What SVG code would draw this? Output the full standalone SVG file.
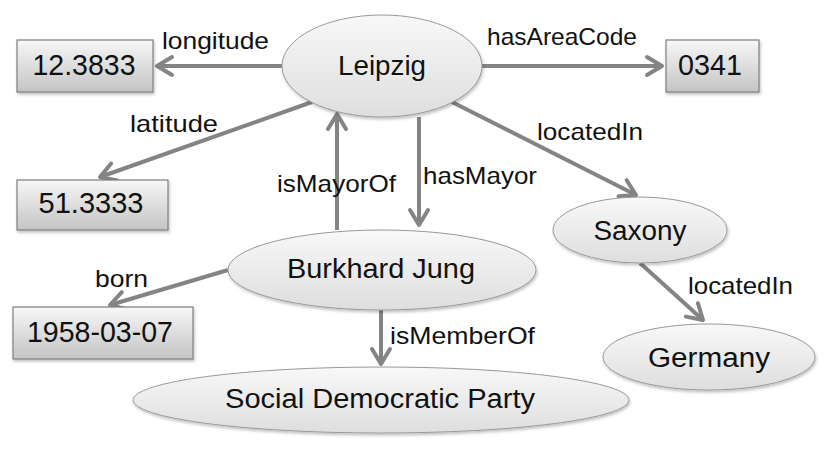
<svg xmlns="http://www.w3.org/2000/svg" width="829" height="450" viewBox="0 0 829 450">
<style>
.node text{font-family:"Liberation Sans",Arial,sans-serif;fill:#111;text-anchor:middle}
.ell{fill:url(#gE);stroke:#9a9a9a;stroke-width:1;filter:url(#sh)}
.box{fill:url(#gB);stroke:#7f7f7f;stroke-width:1.2;filter:url(#sh)}
.nt{font-size:27px}
.bt{font-size:29px}
#edges line{stroke:#848484;stroke-width:4;marker-end:url(#arr)}
#edges text{font-family:"Liberation Sans",Arial,sans-serif;font-size:24px;fill:#111}
</style>
<defs>
<linearGradient id="gE" x1="0" y1="0" x2="0" y2="1">
<stop offset="0" stop-color="#f8f8f8"/><stop offset="1" stop-color="#dedede"/>
</linearGradient>
<linearGradient id="gB" x1="0" y1="0" x2="0" y2="1">
<stop offset="0" stop-color="#f7f7f7"/><stop offset="1" stop-color="#c4c4c4"/>
</linearGradient>
<filter id="sh" x="-10%" y="-10%" width="130%" height="140%">
<feDropShadow dx="1" dy="2" stdDeviation="1.5" flood-color="#000" flood-opacity="0.25"/>
</filter>
<marker id="arr" markerUnits="userSpaceOnUse" markerWidth="24" markerHeight="24" viewBox="0 0 24 24" refX="19" refY="12" orient="auto">
<path d="M4,3 L19,12 L4,21" fill="none" stroke="#848484" stroke-width="4" stroke-linejoin="round" stroke-linecap="round"/>
</marker>
</defs>
<rect width="829" height="450" fill="#fff"/>
<g id="edges">
<line x1="282" y1="66" x2="157" y2="66"/>
<text x="162" y="49" textLength="107" lengthAdjust="spacingAndGlyphs">longitude</text>
<line x1="482" y1="66" x2="662" y2="66"/>
<text x="487" y="45" textLength="150" lengthAdjust="spacingAndGlyphs">hasAreaCode</text>
<line x1="312" y1="102" x2="100" y2="177"/>
<text x="130" y="132" textLength="88" lengthAdjust="spacingAndGlyphs">latitude</text>
<line x1="337" y1="230" x2="337" y2="114"/>
<text x="277" y="192" textLength="119" lengthAdjust="spacingAndGlyphs">isMayorOf</text>
<line x1="419" y1="117" x2="419" y2="225"/>
<text x="423" y="184" textLength="114" lengthAdjust="spacingAndGlyphs">hasMayor</text>
<line x1="452" y1="102" x2="636" y2="195"/>
<text x="537" y="140" textLength="106" lengthAdjust="spacingAndGlyphs">locatedIn</text>
<line x1="228" y1="270" x2="110" y2="305"/>
<text x="95" y="287" textLength="53" lengthAdjust="spacingAndGlyphs">born</text>
<line x1="381" y1="310" x2="381" y2="364"/>
<text x="390" y="344" textLength="145" lengthAdjust="spacingAndGlyphs">isMemberOf</text>
<line x1="640" y1="263" x2="703" y2="320"/>
<text x="688" y="294" textLength="105" lengthAdjust="spacingAndGlyphs">locatedIn</text>
</g>
<g id="n-leipzig" class="node">
<ellipse class="ell" cx="382" cy="66" rx="100" ry="51"/>
<text class="nt" x="382" y="75" textLength="88" lengthAdjust="spacingAndGlyphs">Leipzig</text>
</g>
<g id="n-long" class="node">
<rect class="box" x="17" y="40" width="136" height="52"/>
<text class="bt" x="84" y="75" textLength="103" lengthAdjust="spacingAndGlyphs">12.3833</text>
</g>
<g id="n-area" class="node">
<rect class="box" x="666" y="40" width="93" height="52"/>
<text class="bt" x="710" y="75" textLength="64" lengthAdjust="spacingAndGlyphs">0341</text>
</g>
<g id="n-lat" class="node">
<rect class="box" x="17" y="180" width="151" height="50"/>
<text class="bt" x="91" y="213" textLength="105" lengthAdjust="spacingAndGlyphs">51.3333</text>
</g>
<g id="n-jung" class="node">
<ellipse class="ell" cx="382" cy="270" rx="154" ry="40"/>
<text class="nt" x="381" y="278" textLength="188" lengthAdjust="spacingAndGlyphs">Burkhard Jung</text>
</g>
<g id="n-born" class="node">
<rect class="box" x="13" y="307" width="180" height="52"/>
<text class="bt" x="100" y="342" textLength="146" lengthAdjust="spacingAndGlyphs">1958-03-07</text>
</g>
<g id="n-spd" class="node">
<ellipse class="ell" cx="381" cy="400" rx="248" ry="33"/>
<text class="nt" x="380" y="408" textLength="310" lengthAdjust="spacingAndGlyphs">Social Democratic Party</text>
</g>
<g id="n-saxony" class="node">
<ellipse class="ell" cx="640" cy="230" rx="87" ry="33"/>
<text class="nt" x="640" y="240" textLength="93" lengthAdjust="spacingAndGlyphs">Saxony</text>
</g>
<g id="n-germany" class="node">
<ellipse class="ell" cx="709" cy="357" rx="106" ry="33"/>
<text class="nt" x="709" y="367" textLength="122" lengthAdjust="spacingAndGlyphs">Germany</text>
</g>
</svg>
